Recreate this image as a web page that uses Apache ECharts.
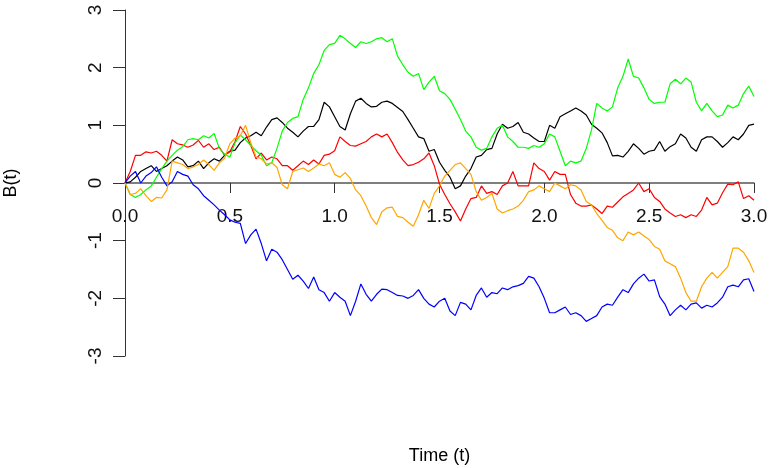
<!DOCTYPE html>
<html>
<head>
<meta charset="utf-8">
<script src="https://cdn.jsdelivr.net/npm/echarts@6/dist/echarts.min.js"></script>
<style>
  html, body { margin: 0; padding: 0; background: #fff; }
  #chart { width: 772px; height: 468px; }
</style>
</head>
<body>
<div id="chart"></div>
<script>
// five brownian paths, sampled every 0.025 on t in [0, 3]
const dt = 0.025;
const xTicks = [0, 0.5, 1, 1.5, 2, 2.5, 3];
const yTicks = [-3, -2, -1, 0, 1, 2, 3];

const black = [
  0, 0.02, 0.1, 0.2, 0.25, 0.3, 0.2, 0.25, 0.3, 0.38,
  0.45, 0.4, 0.28, 0.3, 0.38, 0.25, 0.35, 0.42, 0.38, 0.48,
  0.55, 0.57, 0.7, 0.78, 0.82, 0.88, 0.82, 0.97, 1.1, 1.13,
  1.05, 0.95, 0.88, 0.8, 0.9, 0.98, 0.98, 1.1, 1.4, 1.32,
  1.15, 0.98, 0.92, 1.2, 1.42, 1.47, 1.38, 1.32, 1.33, 1.4,
  1.42, 1.38, 1.31, 1.24, 1.1, 0.95, 0.8, 0.77, 0.55, 0.58,
  0.36, 0.22, 0.1, -0.1, -0.05, 0.12, 0.25, 0.45, 0.48, 0.58,
  0.6, 0.85, 1.02, 0.95, 0.98, 1.05, 0.88, 0.85, 0.78, 0.72,
  0.72, 1.0, 0.95, 1.15, 1.2, 1.25, 1.3, 1.25, 1.18, 1.02,
  0.95, 0.87, 0.7, 0.47, 0.48, 0.45, 0.55, 0.68, 0.6, 0.5,
  0.55, 0.57, 0.72, 0.55, 0.63, 0.68, 0.85, 0.78, 0.62, 0.55,
  0.75, 0.8, 0.8, 0.72, 0.62, 0.7, 0.8, 0.75, 0.85, 1.0,
  1.02
];
const red = [
  0, 0.2, 0.48, 0.48, 0.54, 0.52, 0.55, 0.48, 0.38, 0.75,
  0.68, 0.66, 0.62, 0.66, 0.74, 0.62, 0.68, 0.58, 0.62, 0.48,
  0.54, 0.72, 0.98, 0.85, 0.65, 0.42, 0.52, 0.4, 0.45, 0.42,
  0.3, 0.3, 0.22, 0.3, 0.38, 0.32, 0.4, 0.33, 0.48, 0.5,
  0.56, 0.8, 0.72, 0.65, 0.64, 0.68, 0.72, 0.8, 0.85, 0.8,
  0.85, 0.7, 0.53, 0.4, 0.3, 0.32, 0.36, 0.42, 0.52, 0.3,
  -0.02, -0.2, -0.36, -0.5, -0.66, -0.45, -0.27, -0.25, -0.05, -0.18,
  -0.15, -0.2, -0.05, 0.0, 0.2, -0.05, -0.05, -0.05, 0.35, 0.25,
  0.2, 0.05, 0.2, 0.15, 0.15, -0.2, -0.35, -0.4, -0.4, -0.38,
  -0.45, -0.53, -0.4, -0.42, -0.33, -0.24, -0.18, -0.12, 0.0, -0.15,
  -0.1, -0.25, -0.32, -0.45, -0.52, -0.58, -0.55, -0.6, -0.55, -0.58,
  -0.47, -0.25, -0.38, -0.35, -0.17, -0.02, -0.03, 0.02, -0.27, -0.22,
  -0.3
];
const green = [
  0, -0.2, -0.25, -0.2, -0.12, -0.05, 0.1, 0.25, 0.38, 0.48,
  0.57, 0.63, 0.75, 0.77, 0.75, 0.82, 0.78, 0.86, 0.6, 0.5,
  0.45, 0.7, 0.83, 0.75, 0.65, 0.56, 0.48, 0.3, 0.35, 0.6,
  0.9, 1.05, 1.12, 1.15, 1.45, 1.65, 1.9, 2.05, 2.3, 2.4,
  2.42, 2.56, 2.5, 2.42, 2.35, 2.45, 2.42, 2.45, 2.5, 2.52,
  2.45, 2.5, 2.2, 2.05, 1.92, 1.85, 1.9, 1.62, 1.75, 1.85,
  1.6, 1.55, 1.45, 1.28, 1.1, 0.9, 0.8, 0.62, 0.57, 0.6,
  0.8, 0.95, 1.0, 0.8, 0.72, 0.62, 0.62, 0.6, 0.65, 0.62,
  0.68, 0.85, 0.8, 0.55, 0.3, 0.38, 0.35, 0.38, 0.6, 0.92,
  1.38, 1.3, 1.25, 1.32, 1.65, 1.85, 2.15, 1.85, 1.82, 1.65,
  1.45, 1.38, 1.4, 1.4, 1.72, 1.8, 1.72, 1.82, 1.75, 1.4,
  1.25, 1.38, 1.25, 1.15, 1.18, 1.35, 1.3, 1.35, 1.55, 1.68,
  1.5
];
const blue = [
  0, 0.12, 0.2, 0.0, 0.12, 0.18, 0.28, 0.1, -0.05, 0.02,
  0.2, 0.15, 0.12, -0.03, -0.1, -0.22, -0.3, -0.38, -0.47, -0.55,
  -0.64, -0.68, -0.7, -1.05, -0.9, -0.8, -1.05, -1.35, -1.15, -1.2,
  -1.33, -1.5, -1.67, -1.6, -1.7, -1.83, -1.63, -1.85, -1.9, -2.05,
  -1.9, -1.98, -2.05, -2.3, -2.05, -1.75, -1.93, -2.05, -1.93, -1.84,
  -1.85, -1.9, -1.95, -1.96, -2.0, -1.95, -1.85, -2.0, -2.1, -2.15,
  -2.05, -2.0, -2.22, -2.3, -2.07, -2.1, -2.2, -1.95, -1.82, -1.98,
  -1.9, -1.92, -1.82, -1.85, -1.8, -1.78, -1.74, -1.62, -1.65, -1.8,
  -2.0, -2.25, -2.25, -2.2, -2.15, -2.28, -2.25, -2.3, -2.4, -2.35,
  -2.3, -2.15, -2.1, -2.12, -1.98, -1.85, -1.9, -1.75, -1.65, -1.58,
  -1.7, -1.68, -1.97, -2.1, -2.3, -2.2, -2.12, -2.2, -2.1, -2.08,
  -2.17, -2.12, -2.15, -2.08, -1.98, -1.8, -1.77, -1.8, -1.68, -1.66,
  -1.88
];
const orange = [
  0, -0.2, -0.18, -0.1, -0.22, -0.32, -0.25, -0.26, -0.12, 0.38,
  0.35, 0.32, 0.25, 0.28, 0.32, 0.4, 0.32, 0.22, 0.35, 0.43,
  0.68, 0.78, 0.82, 1.0, 0.7, 0.45, 0.42, 0.33, 0.35, 0.27,
  -0.03, -0.1, 0.2, 0.23, 0.26, 0.2, 0.26, 0.33, 0.3, 0.35,
  0.15, 0.1, 0.18, 0.08, -0.12, -0.22, -0.4, -0.6, -0.72, -0.5,
  -0.43, -0.42, -0.58, -0.6, -0.68, -0.75, -0.55, -0.3, -0.44, -0.18,
  -0.05, 0.12, 0.22, 0.32, 0.35, 0.25, 0.15, -0.15, -0.3, -0.25,
  -0.18, -0.45, -0.52, -0.48, -0.45, -0.4, -0.3, -0.15, -0.12, -0.05,
  -0.1, -0.15, 0.0, -0.05, -0.1, -0.03, -0.05, -0.12, -0.32, -0.38,
  -0.53, -0.65, -0.77, -0.82, -0.95, -1.0, -0.85, -0.9, -0.85, -0.92,
  -0.98, -1.1, -1.15, -1.35, -1.4, -1.45, -1.65, -1.9, -2.05, -2.05,
  -1.8, -1.65, -1.55, -1.65, -1.55, -1.45, -1.13, -1.13, -1.2, -1.35,
  -1.55
];

const paths = [
  { name: "black", color: "#000000", values: black },
  { name: "red", color: "#ff0000", values: red },
  { name: "green", color: "#00ff00", values: green },
  { name: "blue", color: "#0000ff", values: blue },
  { name: "orange", color: "#ffa500", values: orange },
];

const myChart = echarts.init(document.getElementById("chart"));
const font = "'Liberation Sans', Arial, Helvetica, sans-serif";

const gridTop = 10;
const gridBottom = 112;
// the x axis sits on B = 0, which is the middle of the -3..3 range
const zeroOffset = (468 - gridTop - gridBottom) / 2;

const option = {
  animation: false,
  backgroundColor: "#ffffff",
  grid: { left: 125, right: 18, top: gridTop, bottom: gridBottom, outerBoundsMode: "none" },
  xAxis: {
    type: "value",
    min: xTicks[0],
    max: xTicks[xTicks.length - 1],
    interval: 0.5,
    offset: -zeroOffset,
    name: "Time (t)",
    nameLocation: "middle",
    nameGap: 264,
    nameTextStyle: { fontFamily: font, fontSize: 18, color: "#000" },
    axisLine: { onZero: false, lineStyle: { color: "#555", width: 1.5 } },
    axisTick: { length: 10, lineStyle: { color: "#333" } },
    axisLabel: {
      fontFamily: font, fontSize: 19, color: "#111", margin: 24,
      formatter: (v) => v.toFixed(1),
    },
    splitLine: { show: false },
  },
  yAxis: {
    type: "value",
    min: yTicks[0],
    max: yTicks[yTicks.length - 1],
    interval: 1,
    name: "B(t)",
    nameLocation: "middle",
    nameRotate: 90,
    nameGap: 105,
    nameTextStyle: { fontFamily: font, fontSize: 18, color: "#000" },
    axisLine: { show: true, onZero: false, lineStyle: { color: "#333", width: 1 } },
    axisTick: { show: true, length: 12, lineStyle: { color: "#333" } },
    axisLabel: { fontFamily: font, fontSize: 19, color: "#111", rotate: 90, margin: 20 },
    splitLine: { show: false },
  },
  series: paths.map((p) => ({
    name: p.name,
    type: "line",
    showSymbol: false,
    data: p.values.map((v, i) => [i * dt, v]),
    lineStyle: { color: p.color, width: 1.2 },
    itemStyle: { color: p.color },
  })),
};

myChart.setOption(option);
</script>
</body>
</html>
